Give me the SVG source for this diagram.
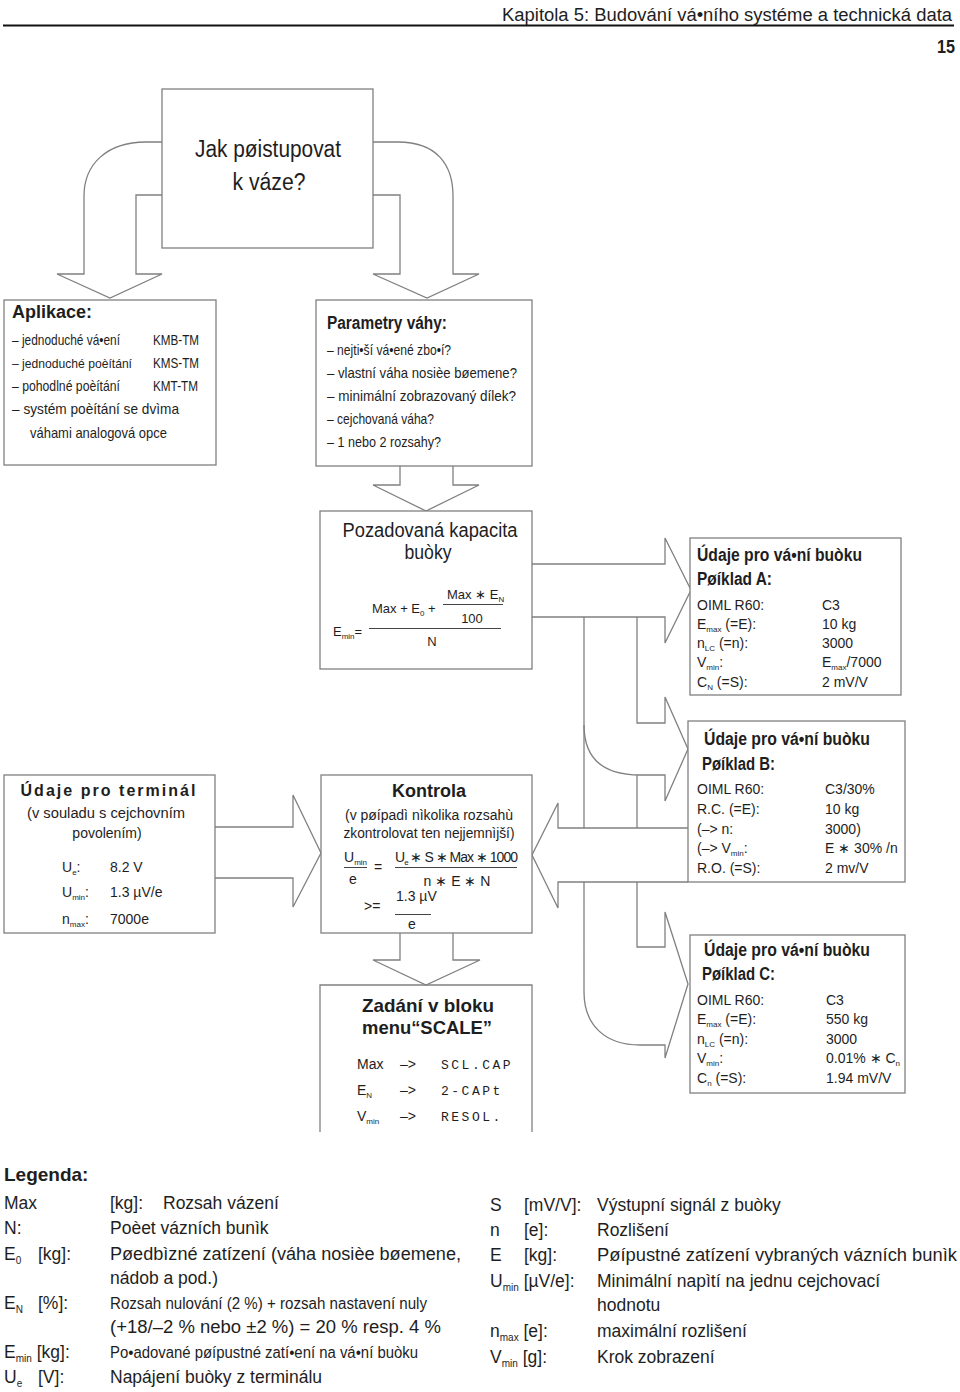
<svg xmlns="http://www.w3.org/2000/svg" width="960" height="1392" viewBox="0 0 960 1392">
<style>
text{font-family:"Liberation Sans",Arial,sans-serif;fill:#1e1e1e}
.box{fill:#fff;stroke:#808080;stroke-width:1.3}
.ln{fill:none;stroke:#808080;stroke-width:1.3}
.fl{fill:none;stroke:#444;stroke-width:1}
.b{font-weight:bold}
.it{font-size:15px}
.dt{font-size:14px}
.hd{font-size:18px;font-weight:bold}
.lg{font-size:17.5px}
.mono{font-family:"Liberation Mono","Courier New",monospace;font-size:13px;letter-spacing:2.5px}
</style>
<rect width="960" height="1392" fill="#fff"/>
<g id="header">
<text x="952" y="21" text-anchor="end" font-size="18" textLength="450" lengthAdjust="spacingAndGlyphs">Kapitola 5:  Budování vá•ního systéme a technická data</text>
<line x1="3" y1="25.5" x2="954" y2="25.5" stroke="#111" stroke-width="2"/>
<text x="955" y="53" text-anchor="end" font-size="18" class="b" textLength="18" lengthAdjust="spacingAndGlyphs">15</text>
</g>
<g id="connectors">
<path class="ln" d="M162,142 H146 C106,142 84,165 84,196 V274 H57 L110,298 L162,274 H136 V195 H162"/>
<path class="ln" d="M373,142 H398 C437,142 453,165 453,196 V274 H479 L427,298 L373,274 H400 V195 H373"/>
<path class="ln" d="M400,466 V485 H373 L426,511 L479,485 H453 V466"/>
<path class="ln" d="M532,564 H665 V538 L691,590 L665,643 V617 H532"/>
<path class="ln" d="M584,617 V828"/>
<path class="ln" d="M637,617 V723 H665 V697 L688,749 L665,801 V775 H640 C605,775 584,760 584,725"/>
<path class="ln" d="M637,775 V828"/>
<path class="ln" d="M688,828 H558 V803 L532,855 L558,908 V882 H688"/>
<path class="ln" d="M584,882 V992 C584,1025 605,1045 640,1045 H665 V1058 L688,984 L665,912 V947 H637 V882"/>
<path class="ln" d="M215,827 H293 V795 L321,853 L293,907 V878 H215"/>
<path class="ln" d="M400,933 V960 H373 L426,985 L480,960 H453 V933"/>
</g>
<g id="start">
<rect class="box" x="162" y="89" width="211" height="159"/>
<text x="268" y="157" text-anchor="middle" font-size="23" textLength="146" lengthAdjust="spacingAndGlyphs">Jak pøistupovat</text>
<text x="269" y="190" text-anchor="middle" font-size="23" textLength="73" lengthAdjust="spacingAndGlyphs">k váze?</text>
</g>
<g id="aplikace">
<rect class="box" x="4" y="300" width="212" height="165"/>
<text x="12" y="318" class="hd" textLength="80" lengthAdjust="spacingAndGlyphs">Aplikace:</text>
<text x="12" y="345" class="it" textLength="108" lengthAdjust="spacingAndGlyphs">– jednoduché vá•ení</text>
<text x="153" y="345" class="it" textLength="46" lengthAdjust="spacingAndGlyphs">KMB-TM</text>
<text x="12" y="368" font-size="13.5" textLength="120" lengthAdjust="spacingAndGlyphs">– jednoduché poèítání</text>
<text x="153" y="368" class="it" textLength="46" lengthAdjust="spacingAndGlyphs">KMS-TM</text>
<text x="12" y="391" class="it" textLength="108" lengthAdjust="spacingAndGlyphs">– pohodlné poèítání</text>
<text x="153" y="391" class="it" textLength="45" lengthAdjust="spacingAndGlyphs">KMT-TM</text>
<text x="12" y="414" class="it" textLength="167" lengthAdjust="spacingAndGlyphs">– systém poèítání se dvìma</text>
<text x="30" y="438" class="it" textLength="137" lengthAdjust="spacingAndGlyphs">váhami analogová opce</text>
</g>
<g id="parametry">
<rect class="box" x="316" y="300" width="216" height="166"/>
<text x="327" y="329" class="hd" textLength="120" lengthAdjust="spacingAndGlyphs">Parametry váhy:</text>
<text x="327" y="355" class="it" textLength="124" lengthAdjust="spacingAndGlyphs">– nejti•ší vá•ené zbo•í?</text>
<text x="327" y="378" class="it" textLength="190" lengthAdjust="spacingAndGlyphs">– vlastní váha nosièe bøemene?</text>
<text x="327" y="401" class="it" textLength="189" lengthAdjust="spacingAndGlyphs">– minimální zobrazovaný dílek?</text>
<text x="327" y="424" class="it" textLength="107" lengthAdjust="spacingAndGlyphs">– cejchovaná váha?</text>
<text x="327" y="447" class="it" textLength="114" lengthAdjust="spacingAndGlyphs">– 1 nebo 2 rozsahy?</text>
</g>
<g id="kapacita">
<rect class="box" x="320" y="511" width="212" height="158"/>
<text x="430" y="537" text-anchor="middle" font-size="20" textLength="175" lengthAdjust="spacingAndGlyphs">Pozadovaná kapacita</text>
<text x="428" y="559" text-anchor="middle" font-size="20" textLength="47" lengthAdjust="spacingAndGlyphs">buòky</text>
<text x="333" y="636" font-size="13">E<tspan font-size="8" dy="3">min</tspan><tspan dy="-3">=</tspan></text>
<text x="372" y="613" font-size="13">Max + E<tspan font-size="8" dy="3">0</tspan><tspan dy="-3"> +</tspan></text>
<text x="447" y="599" font-size="13">Max ∗ E<tspan font-size="8" dy="3">N</tspan></text>
<line class="fl" x1="443" y1="604.5" x2="503" y2="604.5"/>
<text x="472" y="623" text-anchor="middle" font-size="13">100</text>
<line class="fl" x1="369" y1="628.5" x2="501" y2="628.5"/>
<text x="432" y="646" text-anchor="middle" font-size="13">N</text>
</g>
<g id="bunka-a">
<rect class="box" x="690" y="538" width="211" height="157"/>
<text x="697" y="561" class="hd" textLength="165" lengthAdjust="spacingAndGlyphs">Údaje pro vá•ní buòku</text>
<text x="697" y="585" class="hd" textLength="75" lengthAdjust="spacingAndGlyphs">Pøíklad A:</text>
<text x="697" y="610" class="dt">OIML  R60:</text><text x="822" y="610" class="dt">C3</text>
<text x="697" y="629" class="dt">E<tspan font-size="8" dy="3">max</tspan><tspan dy="-3">  (=E):</tspan></text><text x="822" y="629" class="dt">10 kg</text>
<text x="697" y="648" class="dt">n<tspan font-size="8" dy="3">LC</tspan><tspan dy="-3">  (=n):</tspan></text><text x="822" y="648" class="dt">3000</text>
<text x="697" y="667" class="dt">V<tspan font-size="8" dy="3">min</tspan><tspan dy="-3">:</tspan></text><text x="822" y="667" class="dt">E<tspan font-size="8" dy="3">max</tspan><tspan dy="-3">/7000</tspan></text>
<text x="697" y="687" class="dt">C<tspan font-size="8" dy="3">N</tspan><tspan dy="-3">  (=S):</tspan></text><text x="822" y="687" class="dt">2 mV/V</text>
</g>
<g id="terminal">
<rect class="box" x="4" y="775" width="211" height="158"/>
<text x="108" y="796" text-anchor="middle" font-family="DejaVu Sans,sans-serif" font-size="16" font-weight="bold" textLength="175" lengthAdjust="spacing">Údaje pro terminál</text>
<text x="106" y="818" text-anchor="middle" class="dt" textLength="158" lengthAdjust="spacingAndGlyphs">(v  souladu  s cejchovním</text>
<text x="107" y="838" text-anchor="middle" class="dt">povolením)</text>
<text x="62" y="872" class="dt">U<tspan font-size="8" dy="3">e</tspan><tspan dy="-3">:</tspan></text><text x="110" y="872" class="dt">8.2 V</text>
<text x="62" y="897" class="dt">U<tspan font-size="8" dy="3">min</tspan><tspan dy="-3">:</tspan></text><text x="110" y="897" class="dt">1.3 µV/e</text>
<text x="62" y="924" class="dt">n<tspan font-size="8" dy="3">max</tspan><tspan dy="-3">:</tspan></text><text x="110" y="924" class="dt">7000e</text>
</g>
<g id="kontrola">
<rect class="box" x="321" y="775" width="211" height="158"/>
<text x="429" y="797" text-anchor="middle" class="hd">Kontrola</text>
<text x="429" y="820" text-anchor="middle" class="dt" textLength="168" lengthAdjust="spacingAndGlyphs">(v  pøípadì  nìkolika  rozsahù</text>
<text x="429" y="838" text-anchor="middle" class="dt" textLength="171" lengthAdjust="spacingAndGlyphs">zkontrolovat  ten  nejjemnìjší)</text>
<text x="344" y="862" class="dt">U<tspan font-size="8" dy="3">min</tspan></text>
<line class="fl" x1="344" y1="867.5" x2="367" y2="867.5"/>
<text x="349" y="884" class="dt">e</text>
<text x="374" y="872" class="dt">=</text>
<text x="395" y="862" class="dt" textLength="123" lengthAdjust="spacing">U<tspan font-size="8" dy="3">e</tspan><tspan dy="-3"> ∗ S ∗ Max ∗ 1000</tspan></text>
<line class="fl" x1="395" y1="867.5" x2="517" y2="867.5"/>
<text x="457" y="886" text-anchor="middle" class="dt">n ∗ E ∗ N</text>
<text x="364" y="911" class="dt">&gt;=</text>
<text x="396" y="901" class="dt">1.3  µV</text>
<line class="fl" x1="395" y1="914.5" x2="431" y2="914.5"/>
<text x="412" y="929" text-anchor="middle" class="dt">e</text>
</g>
<g id="bunka-b">
<rect class="box" x="688" y="721" width="217" height="161"/>
<text x="704" y="745" class="hd" textLength="166" lengthAdjust="spacingAndGlyphs">Údaje pro vá•ní buòku</text>
<text x="702" y="770" class="hd" textLength="73" lengthAdjust="spacingAndGlyphs">Pøíklad B:</text>
<text x="697" y="794" class="dt">OIML  R60:</text><text x="825" y="794" class="dt">C3/30%</text>
<text x="697" y="814" class="dt">R.C.  (=E):</text><text x="825" y="814" class="dt">10 kg</text>
<text x="697" y="834" class="dt">(–&gt;  n:</text><text x="825" y="834" class="dt">3000)</text>
<text x="697" y="853" class="dt">(–&gt;  V<tspan font-size="8" dy="3">min</tspan><tspan dy="-3">:</tspan></text><text x="825" y="853" class="dt">E  ∗  30% /n</text>
<text x="697" y="873" class="dt">R.O.  (=S):</text><text x="825" y="873" class="dt">2 mv/V</text>
</g>
<g id="bunka-c">
<rect class="box" x="690" y="935" width="215" height="158"/>
<text x="704" y="956" class="hd" textLength="166" lengthAdjust="spacingAndGlyphs">Údaje pro vá•ní buòku</text>
<text x="702" y="980" class="hd" textLength="73" lengthAdjust="spacingAndGlyphs">Pøíklad C:</text>
<text x="697" y="1005" class="dt">OIML  R60:</text><text x="826" y="1005" class="dt">C3</text>
<text x="697" y="1024" class="dt">E<tspan font-size="8" dy="3">max</tspan><tspan dy="-3">  (=E):</tspan></text><text x="826" y="1024" class="dt">550 kg</text>
<text x="697" y="1044" class="dt">n<tspan font-size="8" dy="3">LC</tspan><tspan dy="-3">  (=n):</tspan></text><text x="826" y="1044" class="dt">3000</text>
<text x="697" y="1063" class="dt">V<tspan font-size="8" dy="3">min</tspan><tspan dy="-3">:</tspan></text><text x="826" y="1063" class="dt">0.01%  ∗  C<tspan font-size="8" dy="3">n</tspan></text>
<text x="697" y="1083" class="dt">C<tspan font-size="8" dy="3">n</tspan><tspan dy="-3">  (=S):</tspan></text><text x="826" y="1083" class="dt">1.94 mV/V</text>
</g>
<g id="zadani">
<path class="ln" d="M320,1132 V985 H532 V1132"/>
<text x="428" y="1012" text-anchor="middle" font-size="19" class="b" textLength="132" lengthAdjust="spacingAndGlyphs">Zadání v bloku</text>
<text x="427" y="1034" text-anchor="middle" font-size="19" class="b" textLength="130" lengthAdjust="spacingAndGlyphs">menu“SCALE”</text>
<text x="357" y="1069" class="dt">Max</text><text x="400" y="1069" class="dt">–&gt;</text><text x="441" y="1069" class="mono">SCL.CAP</text>
<text x="357" y="1095" class="dt">E<tspan font-size="8" dy="3">N</tspan></text><text x="400" y="1095" class="dt">–&gt;</text><text x="441" y="1095" class="mono">2-CAPt</text>
<text x="357" y="1121" class="dt">V<tspan font-size="8" dy="3">min</tspan></text><text x="400" y="1121" class="dt">–&gt;</text><text x="441" y="1121" class="mono">RESOL.</text>
</g>
<g id="legenda">
<text x="4" y="1181" font-size="19" class="b">Legenda:</text>
<text x="4" y="1209" class="lg">Max</text><text x="110" y="1209" class="lg">[kg]:</text><text x="163" y="1209" class="lg">Rozsah vázení</text>
<text x="4" y="1234" class="lg">N:</text><text x="110" y="1234" class="lg">Poèet vázních bunìk</text>
<text x="4" y="1260" class="lg">E<tspan font-size="10" dy="4">0</tspan></text><text x="38" y="1260" class="lg">[kg]:</text><text x="110" y="1260" class="lg" textLength="351" lengthAdjust="spacingAndGlyphs">Pøedbìzné zatízení (váha nosièe bøemene,</text>
<text x="110" y="1284" class="lg">nádob a pod.)</text>
<text x="4" y="1309" class="lg">E<tspan font-size="10" dy="4">N</tspan></text><text x="38" y="1309" class="lg">[%]:</text><text x="110" y="1309" font-size="16" textLength="317" lengthAdjust="spacingAndGlyphs">Rozsah nulování (2 %) + rozsah nastavení nuly</text>
<text x="110" y="1333" class="lg" textLength="331" lengthAdjust="spacingAndGlyphs">(+18/–2 % nebo ±2 %) = 20 % resp. 4 %</text>
<text x="4" y="1358" class="lg">E<tspan font-size="10" dy="4">min</tspan><tspan dy="-4"> [kg]:</tspan></text><text x="110" y="1358" font-size="16" textLength="308" lengthAdjust="spacingAndGlyphs">Po•adované pøípustné zatí•ení na vá•ní buòku</text>
<text x="4" y="1383" class="lg">U<tspan font-size="10" dy="4">e</tspan></text><text x="38" y="1383" class="lg">[V]:</text><text x="110" y="1383" class="lg">Napájení buòky z terminálu</text>
<text x="490" y="1211" class="lg">S</text><text x="524" y="1211" class="lg">[mV/V]:</text><text x="597" y="1211" class="lg">Výstupní signál z buòky</text>
<text x="490" y="1236" class="lg">n</text><text x="524" y="1236" class="lg">[e]:</text><text x="597" y="1236" class="lg">Rozlišení</text>
<text x="490" y="1261" class="lg">E</text><text x="524" y="1261" class="lg">[kg]:</text><text x="597" y="1261" class="lg" textLength="360" lengthAdjust="spacingAndGlyphs">Pøípustné zatízení vybraných vázních bunìk</text>
<text x="490" y="1287" class="lg">U<tspan font-size="10" dy="4">min</tspan><tspan dy="-4"> [µV/e]:</tspan></text><text x="597" y="1287" class="lg">Minimální napìtí na jednu cejchovací</text>
<text x="597" y="1311" class="lg">hodnotu</text>
<text x="490" y="1337" class="lg">n<tspan font-size="10" dy="4">max</tspan><tspan dy="-4"> [e]:</tspan></text><text x="597" y="1337" class="lg">maximální rozlišení</text>
<text x="490" y="1363" class="lg">V<tspan font-size="10" dy="4">min</tspan><tspan dy="-4"> [g]:</tspan></text><text x="597" y="1363" class="lg">Krok zobrazení</text>
</g>
</svg>
